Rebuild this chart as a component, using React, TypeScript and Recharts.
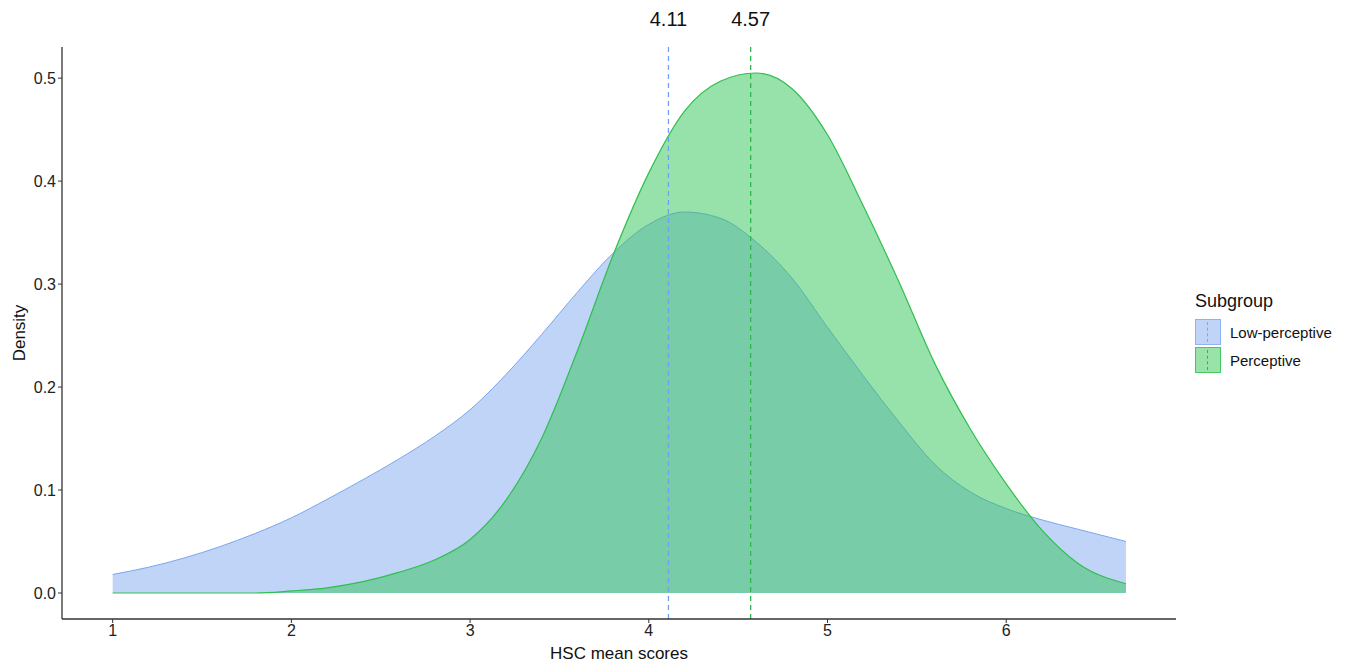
import React from 'react';
import {
  AreaChart,
  Area,
  XAxis,
  YAxis,
  ReferenceLine
} from 'recharts';

// HSC mean score grid and density values
const scores = [
  1.0, 1.2, 1.4, 1.6, 1.8, 2.0, 2.2, 2.4, 2.6, 2.8, 3.0, 3.2, 3.4, 3.6, 3.8,
  4.0, 4.2, 4.4, 4.6, 4.8, 5.0, 5.2, 5.4, 5.6, 5.8, 6.0, 6.2, 6.4, 6.67
];
const lowPerceptive = [
  0.018, 0.025, 0.034, 0.045, 0.058, 0.073, 0.091, 0.110, 0.130, 0.152, 0.178, 0.212, 0.251, 0.292, 0.330,
  0.358, 0.370, 0.364, 0.341, 0.306, 0.258, 0.211, 0.166, 0.125, 0.098, 0.082, 0.071, 0.062, 0.050
];
const perceptive = [
  0, 0, 0, 0, 0, 0.002, 0.005, 0.011, 0.020, 0.032, 0.052, 0.090, 0.150, 0.235, 0.328,
  0.408, 0.468, 0.497, 0.505, 0.490, 0.445, 0.376, 0.302, 0.223, 0.159, 0.106, 0.061, 0.029, 0.009
];
const xTicks = [1, 2, 3, 4, 5, 6];
const yTicks = [0, 0.1, 0.2, 0.3, 0.4, 0.5];
const means = [
  { name: 'Low-perceptive', value: 4.11 },
  { name: 'Perceptive', value: 4.57 }
];

const BLUE_FILL = '#81a9f1';
const BLUE_LINE = '#7aa5ef';
const GREEN_FILL = '#2fc356';
const GREEN_LINE = '#2fbf4f';

const data = scores.map((x, i) => ({
  x,
  low: lowPerceptive[i],
  perc: perceptive[i]
}));

const FONT = '"Liberation Sans", Arial, sans-serif';

const SubgroupLegend = () => {
  const items = [
    { label: 'Low-perceptive', fill: '#c0d4f8', border: '#8fb2f2', dash: '#7aa5ef' },
    { label: 'Perceptive', fill: '#99e2a8', border: '#45c863', dash: '#2db84c' }
  ];
  return (
    <div
      style={{
        position: 'absolute',
        left: 1195,
        top: 291,
        fontFamily: FONT,
        color: '#111'
      }}
    >
      <div style={{ fontSize: 18, marginBottom: 6 }}>Subgroup</div>
      {items.map(it => (
        <div key={it.label} style={{ display: 'flex', alignItems: 'center', height: 28 }}>
          <div
            style={{
              width: 26,
              height: 26,
              background: it.fill,
              border: `1.5px solid ${it.border}`,
              position: 'relative',
              boxSizing: 'border-box'
            }}
          >
            <div
              style={{
                position: 'absolute',
                left: 11,
                top: 2,
                bottom: 2,
                borderLeft: `1.5px dashed ${it.dash}`
              }}
            />
          </div>
          <span style={{ fontSize: 15, marginLeft: 9 }}>{it.label}</span>
        </div>
      ))}
    </div>
  );
};

export default function App() {
  return (
    <div style={{ position: 'absolute', left: 0, top: 0, width: 1350, height: 664, background: '#fff' }}>
      <AreaChart
        width={1350}
        height={664}
        data={data}
        margin={{ top: 47, right: 174, left: 0, bottom: 0 }}
      >
        <XAxis
          dataKey="x"
          type="number"
          domain={[0.7165, 6.95]}
          ticks={xTicks}
          allowDataOverflow
          height={45}
          tick={{ fontSize: 16, fill: '#222', fontFamily: FONT }}
          tickSize={4}
          tickLine={{ stroke: '#333' }}
          axisLine={{ stroke: '#333', strokeWidth: 1.3 }}
          label={{
            value: 'HSC mean scores',
            position: 'insideBottom',
            offset: 5,
            fontSize: 17,
            fill: '#111',
            fontFamily: FONT
          }}
        />
        <YAxis
          type="number"
          domain={[-0.02525, 0.53025]}
          ticks={yTicks}
          allowDataOverflow
          width={62}
          tickFormatter={(v: number) => v.toFixed(1)}
          tick={{ fontSize: 16, fill: '#222', fontFamily: FONT }}
          tickSize={4}
          tickLine={{ stroke: '#333' }}
          axisLine={{ stroke: '#333', strokeWidth: 1.3 }}
          label={{
            value: 'Density',
            angle: -90,
            position: 'center',
            dx: -12,
            fontSize: 17,
            fill: '#111',
            fontFamily: FONT
          }}
        />
        <Area
          type="monotone"
          dataKey="low"
          name="Low-perceptive"
          stroke={BLUE_LINE}
          strokeWidth={1}
          fill={BLUE_FILL}
          fillOpacity={0.5}
          isAnimationActive={false}
        />
        <Area
          type="monotone"
          dataKey="perc"
          name="Perceptive"
          stroke={GREEN_LINE}
          strokeWidth={1.2}
          fill={GREEN_FILL}
          fillOpacity={0.5}
          isAnimationActive={false}
        />
        {means.map((m, i) => (
          <ReferenceLine
            key={m.name}
            x={m.value}
            stroke={i === 0 ? '#6fa0f5' : '#2db84c'}
            strokeWidth={1.3}
            strokeDasharray="5 4"
            label={{
              value: m.value.toFixed(2),
              position: 'top',
              offset: 21,
              fontSize: 20,
              fill: '#111',
              fontFamily: FONT
            }}
          />
        ))}
      </AreaChart>
      <SubgroupLegend />
    </div>
  );
}
